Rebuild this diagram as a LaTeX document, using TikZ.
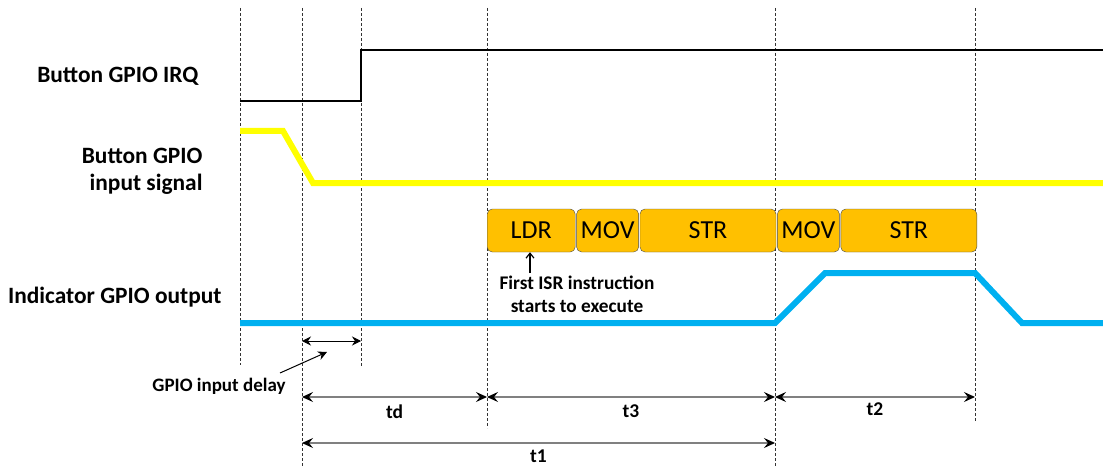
\documentclass[tikz,border=0pt]{standalone}
\usepackage{fontspec}
\setmainfont{Carlito}
\usetikzlibrary{arrows.meta,positioning}

\definecolor{irqyellow}{RGB}{255,255,0}
\definecolor{outblue}{RGB}{0,176,240}
\definecolor{instrorange}{RGB}{255,192,0}

\tikzset{
  siglabel/.style={font=\bfseries\fontsize{23.4}{27}\selectfont, align=right, anchor=east},
  instr/.style={draw=black!70, thin, fill=instrorange, rounded corners=5pt,
    minimum height=43pt, inner sep=0pt, font=\fontsize{26}{30}\selectfont},
  dim/.style={gray, line width=1.2pt,
    {Stealth[black,length=11pt,width=10pt,inset=4pt]}-{Stealth[black,length=11pt,width=10pt,inset=4pt]}},
  dimlabel/.style={black, font=\bfseries\fontsize{19.5}{23}\selectfont},
}

\begin{document}
\begin{tikzpicture}[x=1pt, y=-1pt]
  \useasboundingbox (0,0) rectangle (1103,468);

  % time markers
  \foreach \x/\yb in {240/365, 302/468, 361/367, 487/428, 775/468, 975/421} {
      \draw[black!80, line width=0.6pt, dash pattern=on 3pt off 2pt]
        (\x,8) -- (\x,\yb);
  }

  % signal names
  \node[siglabel] (irqname) at (202,76) {Button GPIO IRQ};
  \node[siglabel] (inname) at (206,171) {Button GPIO\\input signal};
  \node[siglabel] (outname) at (225,297) {Indicator GPIO output};

  % waveforms
  \draw[line width=2pt] (240,101) -- (361,101) -- (361,50) -- (1103,50);
  \draw[irqyellow, line width=6pt] (240,131) -- (283,131) -- (313,183) -- (1103,183);
  \draw[outblue, line width=6pt] (240,323) -- (775,323) -- (825,273) -- (975,273)
    -- (1022,323) -- (1103,323);

  % ISR instructions
  \node[instr, minimum width=88pt, anchor=west] (ldr) at (487,230.5) {LDR};
  \node[instr, minimum width=62pt, right=1pt of ldr] (mova) {MOV};
  \node[instr, minimum width=136pt, right=1pt of mova] (stra) {STR};
  \node[instr, minimum width=62pt, right=1pt of stra] (movb) {MOV};
  \node[instr, minimum width=136pt, right=1pt of movb] (strb) {STR};

  \node[font=\bfseries\fontsize{19.3}{23}\selectfont, align=center] (first) at (577,294)
    {First ISR instruction\\starts to execute};
  \coordinate (isr) at (530,273);
  \draw[-{Straight Barb[length=5pt,width=8pt]}, line width=1.2pt] (isr) -- (isr |- ldr.south);

  % input delay
  \coordinate (dla) at (302,341);
  \coordinate (dlb) at (361,341);
  \draw[line width=1pt, {Stealth[length=9pt,width=9pt,inset=3pt]}-{Stealth[length=9pt,width=9pt,inset=3pt]}]
    (dla) -- (dlb);
  \node[font=\bfseries\fontsize{19}{22}\selectfont] (delay) at (219,386) {GPIO input delay};
  \draw[line width=1pt, -{Stealth[length=9pt,width=9pt,inset=3pt]}] (280,373) -- (327,352);

  % intervals
  \coordinate (ta) at (302,397);
  \coordinate (tb) at (487,397);
  \coordinate (tc) at (775,397);
  \coordinate (te) at (975,397);
  \draw[dim] (ta) -- (tb) node[dimlabel, midway, below=4pt] (td) {td};
  \draw[dim] (tb) -- (tc) node[dimlabel, midway, below=4pt] (tthree) {t3};
  \draw[dim] (tc) -- (te) node[dimlabel, midway, below=2pt] (ttwo) {t2};
  \draw[dim] (302,443) -- (775,443) node[dimlabel, midway, below=3pt] (tone) {t1};

\end{tikzpicture}
\end{document}
